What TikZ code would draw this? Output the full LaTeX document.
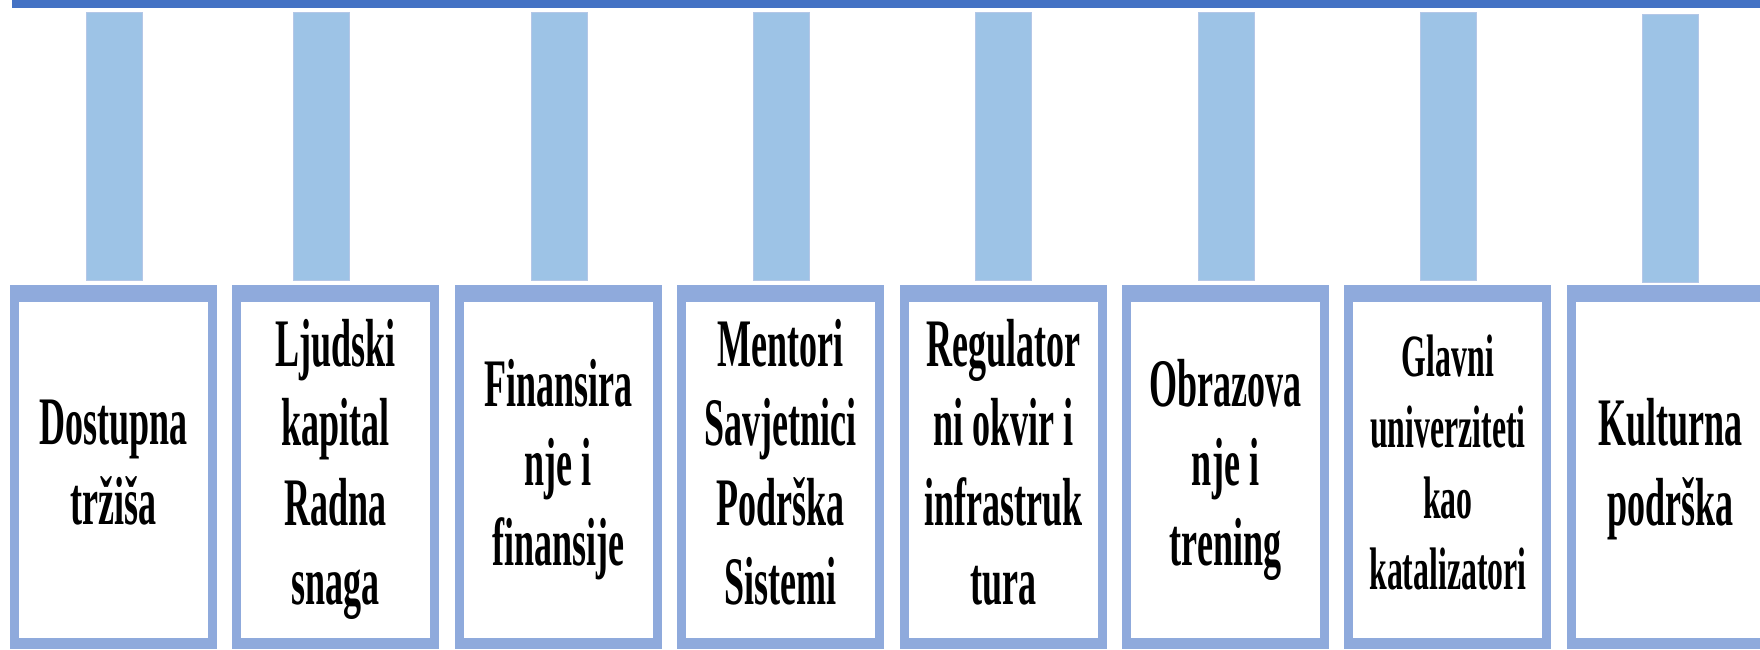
\documentclass[tikz,border=0pt]{standalone}
\usepackage{fontspec}
\usetikzlibrary{positioning}
\newfontfamily\cardfont{Liberation Serif}[FakeStretch=0.53]
\definecolor{barblue}{HTML}{4472C4}
\definecolor{pillarblue}{HTML}{9DC3E6}
\definecolor{pillaredge}{HTML}{B4C7E7}
\definecolor{frameblue}{HTML}{8FAADC}
\newcommand{\cardstrut}{\rule[-8pt]{0pt}{38pt}}

\tikzset{
	pillar/.style={rectangle, fill=pillarblue, draw=pillaredge, line width=0.6pt, minimum width=28pt, minimum height=134pt, inner sep=0pt, anchor=north west},
	frame/.style={rectangle, fill=frameblue, minimum width=103.5pt, minimum height=182pt, inner sep=0pt},
	card/.style={rectangle, fill=white, minimum width=94.5pt, minimum height=168pt, inner sep=0pt, align=center, font=\cardfont\bfseries\fontsize{34pt}{39.75pt}\selectfont, execute at begin node=\cardstrut, execute at end node=\cardstrut},
	smallcard/.style={card, font=\cardfont\bfseries\fontsize{30pt}{35.5pt}\selectfont}
}

\begin{document}
\begin{tikzpicture}[x=0.5pt, y=-0.5pt, node distance=111.2pt]
			\useasboundingbox (0,0) rectangle (1760,649);
			\clip (0,0) rectangle (1760,649);
			\fill[barblue] (12,0) rectangle (1770,8);

			\node[pillar] (P1) at (86,12) {};
			\node[pillar] (P2) at (293,12) {};
			\node[pillar] (P3) at (531,12) {};
			\node[pillar] (P4) at (753,12) {};
			\node[pillar] (P5) at (975,12) {};
			\node[pillar] (P6) at (1198,12) {};
			\node[pillar] (P7) at (1420,12) {};
			\node[pillar] (P8) at (1642,14) {};

			\node[frame] (F1) at (113.5,467) {};
			\node[frame] (F2) [right of=F1] {};
			\node[frame] (F3) [right of=F2] {};
			\node[frame] (F4) [right of=F3] {};
			\node[frame] (F5) [right of=F4] {};
			\node[frame] (F6) [right of=F5] {};
			\node[frame] (F7) [right of=F6] {};
			\node[frame] (F8) [right of=F7] {};

			\node[card] (C1) at (F1) [yshift=-1.5pt] {Dostupna\\tržiša};
			\node[card] (C2) at (F2) [yshift=-1.5pt] {Ljudski\\kapital\\Radna\\snaga};
			\node[card] (C3) at (F3) [yshift=-1.5pt] {Finansira\\nje i\\finansije};
			\node[card] (C4) at (F4) [yshift=-1.5pt] {Mentori\\Savjetnici\\Podrška\\Sistemi};
			\node[card] (C5) at (F5) [yshift=-1.5pt] {Regulator\\ni okvir i\\infrastruk\\tura};
			\node[card] (C6) at (F6) [yshift=-1.5pt] {Obrazova\\nje i\\trening};
			\node[smallcard] (C7) at (F7) [yshift=-1.5pt] {Glavni\\univerziteti\\kao\\katalizatori};
			\node[card] (C8) at (F8) [yshift=-1.5pt] {Kulturna\\podrška};
		\end{tikzpicture}
\end{document}
